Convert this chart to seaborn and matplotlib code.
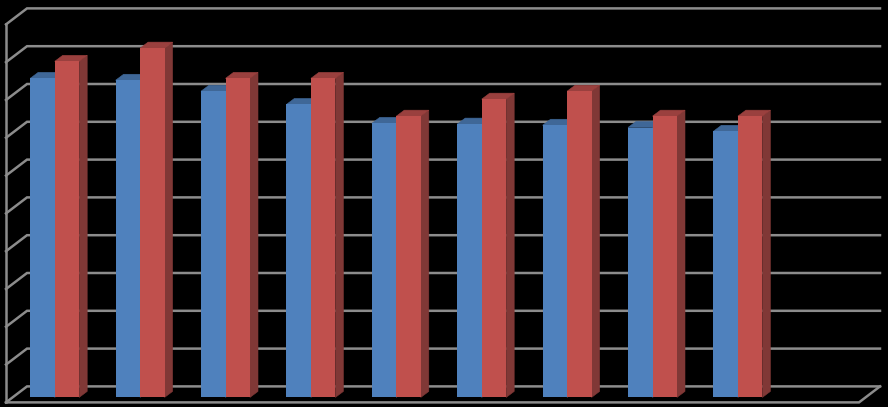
import numpy as np
import pandas as pd
import matplotlib
matplotlib.use("Agg")
import matplotlib.pyplot as plt
from matplotlib.patches import Polygon
import seaborn as sns

# Values (no labels in the original, y is 0-100)
categories = ["1", "2", "3", "4", "5", "6", "7", "8", "9"]
blue_values = [84.4, 83.9, 81.0, 77.5, 72.5, 72.3, 72.0, 71.4, 70.4]
red_values = [88.9, 92.4, 84.4, 84.4, 74.4, 78.9, 81.0, 74.4, 74.4]
y_ticks = [0, 10, 20, 30, 40, 50, 60, 70, 80, 90, 100]

W, H = 888, 407
PX_PER_CAT = 85.4
PX_PER_UNIT = 3.78
BASE_Y = 397.4     # pixel row of value 0 on bar fronts
FIRST_X = 54.7     # pixel column of first category centre

# Chart depth in pixels
BAR_DX, BAR_DY = 8, 6
WALL_DX, WALL_DY = 21, 16
BACK_FLOOR_Y = 386.4
FRONT_FLOOR_Y = BACK_FLOOR_Y + WALL_DY
BACK_LEFT, BACK_RIGHT = 27, 880
LINE_W = 1.8


def px_x(x):
    return (x - FIRST_X) / PX_PER_CAT


def px_y(y):
    return (BASE_Y - y) / PX_PER_UNIT


df = pd.DataFrame({
    "cat": categories * 2,
    "val": blue_values + red_values,
    "series": ["a"] * len(categories) + ["b"] * len(categories),
})

fig = plt.figure(figsize=(W / 100, H / 100), dpi=100, facecolor="black")
ax = fig.add_axes([0, 0, 1, 1])
sns.barplot(data=df, x="cat", y="val", hue="series", order=categories,
            palette=["#4F81BD", "#C0504D"], width=49 / PX_PER_CAT, gap=0,
            saturation=1, legend=False, linewidth=0, ax=ax)
ax.set_xlim(px_x(0), px_x(W))
ax.set_ylim(px_y(H), px_y(0))
ax.set_axis_off()

# Walls and floor
grid = "#8C8C8C"
dx = BACK_LEFT - WALL_DX
for t in y_ticks:
    y_back = BACK_FLOOR_Y - t * PX_PER_UNIT
    ax.plot([px_x(dx), px_x(BACK_LEFT), px_x(BACK_RIGHT)],
            [px_y(y_back + WALL_DY), px_y(y_back), px_y(y_back)],
            color=grid, lw=LINE_W, zorder=1, solid_joinstyle="miter")
ax.plot([px_x(dx), px_x(dx)],
        [px_y(FRONT_FLOOR_Y), px_y(BACK_FLOOR_Y - 100 * PX_PER_UNIT + WALL_DY)],
        color=grid, lw=LINE_W, zorder=1)
ax.plot([px_x(dx), px_x(BACK_RIGHT - WALL_DX), px_x(BACK_RIGHT)],
        [px_y(FRONT_FLOOR_Y), px_y(FRONT_FLOOR_Y), px_y(BACK_FLOOR_Y)],
        color=grid, lw=LINE_W, zorder=1, solid_joinstyle="miter")

# 3D faces on each bar, left to right so the red bars overlap the blue ones
shades = {"#4f81bd": ("#3F6797", "#375A84"), "#c0504d": ("#9A403E", "#803836")}
off_x = BAR_DX / PX_PER_CAT
off_y = BAR_DY / PX_PER_UNIT
bars = sorted([p for p in ax.patches if p.get_height() > 0], key=lambda p: p.get_x())
for i, bar in enumerate(bars):
    x0, w, h = bar.get_x(), bar.get_width(), bar.get_height()
    x1 = x0 + w
    top, side = shades[matplotlib.colors.to_hex(bar.get_facecolor())]
    z = 3 + i * 0.1
    ax.add_patch(Polygon([(x1, 0), (x1 + off_x, off_y), (x1 + off_x, h + off_y), (x1, h)],
                         closed=True, fc=side, ec=side, lw=0.4, zorder=z))
    ax.add_patch(Polygon([(x0, h), (x0 + off_x, h + off_y), (x1 + off_x, h + off_y), (x1, h)],
                         closed=True, fc=top, ec=top, lw=0.4, zorder=z))
    bar.set_zorder(z + 0.05)

fig.savefig("out.png", dpi=100, facecolor="black")
